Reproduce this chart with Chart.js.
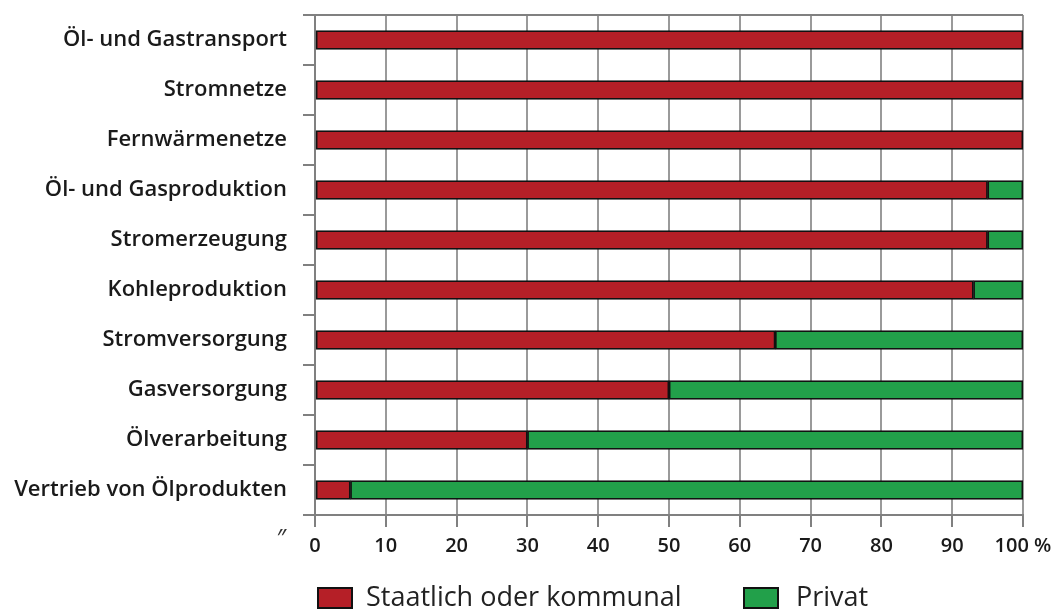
<!DOCTYPE html>
<html lang="de">
<head>
<meta charset="utf-8">
<title>Eigentum im Energiesektor</title>
<script src="https://cdn.jsdelivr.net/npm/chart.js@4.4.1/dist/chart.umd.min.js"></script>
<style>
    html, body { margin: 0; padding: 0; background: #fff; }
    #wrap { position: relative; width: 1055px; height: 611px; }
    #chart { position: absolute; left: 0; top: 0; }
    .key { position: absolute; top: 587px; width: 32px; height: 18px; border: 2px solid #111; }
    .keytext { position: absolute; top: 578px; font: 400 27px "Open Sans", sans-serif; color: #222; line-height: 36px; }
    .mark { position: absolute; left: 276px; top: 520px; font: italic 400 24px "Open Sans", sans-serif; color: #333; }
</style>
</head>
<body>
<div id="wrap">
    <canvas id="chart" width="1055" height="611"></canvas>
    <span class="mark">″</span>
    <div class="key" style="left:317px; background:#B51F27;"></div>
    <div class="keytext" style="left:366px;">Staatlich oder kommunal</div>
    <div class="key" style="left:743px; background:#22A04A;"></div>
    <div class="keytext" style="left:796px;">Privat</div>
</div>
<script>
'use strict';

const sectors = ['Öl- und Gastransport', 'Stromnetze', 'Fernwärmenetze', 'Öl- und Gasproduktion',
    'Stromerzeugung', 'Kohleproduktion', 'Stromversorgung', 'Gasversorgung', 'Ölverarbeitung',
    'Vertrieb von Ölprodukten'];
const staatlich = [100, 100, 100, 95, 95, 93, 65, 50, 30, 5];
const privat = [0, 0, 0, 5, 5, 7, 35, 50, 70, 95];
const xTicks = [0, 10, 20, 30, 40, 50, 60, 70, 80, 90, 100];

const red = '#B51F27';
const green = '#22A04A';
const gridGrey = '#9a9a9a';
const axisGrey = '#808080';

let ctx = document.getElementById('chart').getContext('2d');
let chart = new Chart(ctx, {
    type: 'bar',
    data: {
        labels: sectors,
        datasets: [{
                label: 'Staatlich oder kommunal',
                data: staatlich,
                backgroundColor: red,
                borderColor: '#111',
                borderWidth: 1.8,
                borderSkipped: false,
                barThickness: 19
            },
            {
                label: 'Privat',
                data: privat,
                backgroundColor: green,
                borderColor: '#111',
                borderWidth: 1.8,
                borderSkipped: false,
                barThickness: 19
            }
        ]
    },
    options: {
        indexAxis: 'y',
        responsive: false,
        animation: false,
        layout: { padding: { top: 15, bottom: 46, right: 32, left: 0 } },
        plugins: {
            legend: { display: false },
            tooltip: { enabled: false }
        },
        scales: {
            x: {
                stacked: true,
                min: 0,
                max: 100,
                afterBuildTicks: function(axis) {
                    axis.ticks = xTicks.map(v => ({ value: v }));
                },
                afterFit: function(axis) {
                    // "100 %" may run into the right margin
                    axis.paddingRight = 0;
                },
                grid: {
                    color: gridGrey,
                    lineWidth: 2,
                    tickLength: 12,
                    tickColor: axisGrey,
                    tickWidth: 2
                },
                border: { color: axisGrey, width: 2 },
                ticks: {
                    padding: 7,
                    color: '#1a1a1a',
                    font: { family: 'Open Sans', size: 20, weight: '600' },
                    maxRotation: 0,
                    callback: v => v === 100 ? '100 %' : v
                }
            },
            y: {
                stacked: true,
                afterFit: function(axis) {
                    // fixed label column; labels sit in band centres so no overhang
                    axis.width = 315;
                    axis.paddingTop = 0;
                    axis.paddingBottom = 0;
                },
                grid: {
                    offset: true,
                    drawOnChartArea: true,
                    color: c => c.index === 0 ? axisGrey : 'rgba(0,0,0,0)',
                    lineWidth: 2,
                    tickLength: 12,
                    tickColor: axisGrey,
                    tickWidth: 2
                },
                border: { color: axisGrey, width: 2 },
                ticks: {
                    padding: 16,
                    color: '#1a1a1a',
                    font: { family: 'Open Sans', size: 22, weight: '600' }
                }
            }
        }
    }
});
</script>
</body>
</html>
